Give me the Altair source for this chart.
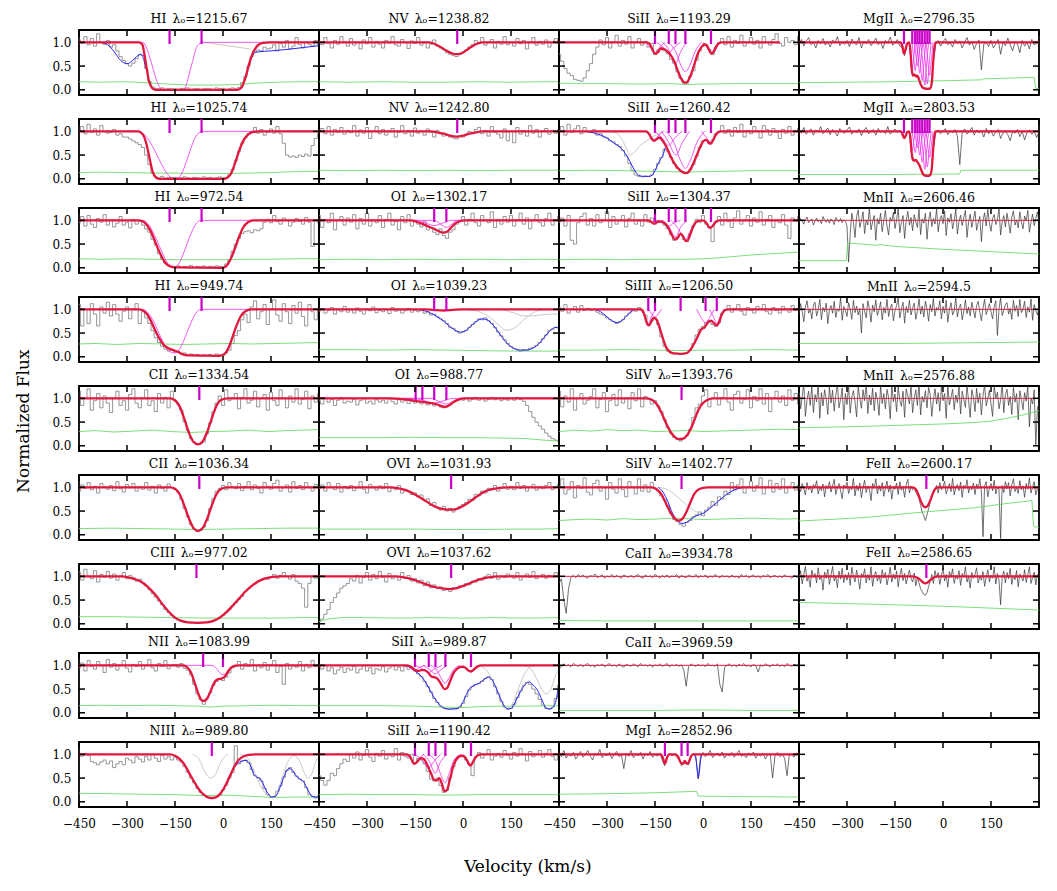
import altair as alt
import pandas as pd

# ---------------------------------------------------------------- axes
V_MIN, V_MAX = -450, 300
F_MIN, F_MAX = -0.11, 1.26
X_TICKS = [-450, -300, -150, 0, 150, 300]
Y_TICKS = [0.0, 0.5, 1.0]
PANEL_W, PANEL_H = 240, 65
TICK_LEN, TICK_W = 6, 1.5

FONT = "DejaVu Serif"
C_DATA = "#7c7c7c"
C_HIRES = "#333333"
C_ERR = "#5cd65c"
C_FIT = "#e3173e"
C_COMP = "#ee30ee"
C_TICK = "#c800c8"
C_BLUE = "#2424ff"
C_GRAY = "#c4c4c4"

# ---------------------------------------------------------------- component velocities
ticks_h1 = [-167, -67]
ticks_n5 = [-18]
ticks_o1 = [-90, -52]
ticks_o1_988 = [-148, -127, -90, -52]
ticks_o6 = [-37]
ticks_si2 = [-150, -107, -86, -55, 25]
ticks_si3 = [-171, -150, -70, 8, 43]
ticks_si4 = [-67]
ticks_c2 = [-74]
ticks_c3 = [-83]
ticks_n2 = [-62, 0]
ticks_n3 = [-35]
ticks_mg2 = [-122, -96, -87, -80, -73, -65, -57, -49, -42]
ticks_fe2 = [-52]
ticks_mg1 = [-119, -67, -48]

# ---------------------------------------------------------------- HI 1215.67
flux_h1_1215 = [105,98,112,95,108,92,118,100,96,104,
                90,95,82,70,62,55,50,56,66,74,
                72,45,18,6,3,2,4,1,3,2,
                2,1,3,2,4,1,2,3,1,2,
                3,2,1,4,2,3,1,2,4,2,
                5,15,28,50,70,80,84,82,90,86,
                88,95,82,98,90,104,86,92,110,95,
                88,100,96,92,104,95]
err_h1_1215 = [(-450,.17),(-380,.16),(-310,.17),(-240,.15),(-170,.12),(-100,.10),(-30,.10),(40,.11),(100,.14),(170,.16),(240,.17),(300,.17)]
fit_h1_1215 = [(-450,1),(-262,1),(-252,0.95),(-242,0.6),(-232,0.2),(-222,0.04),(-212,0),(45,0),(58,0.05),(70,0.25),(82,0.55),(95,0.8),(108,0.93),(125,0.99),(145,1),(300,1)]
comps_h1_1215 = [[(-450,1),(-250,1),(-240,0.9),(-225,0.6),(-210,0.25),(-195,0.03),(-185,0),(-125,0),(-115,0.1),(-105,0.35),(-95,0.6),(-85,0.85),(-75,0.97),(-65,1),(300,1)]]
blue_h1_1215 = [[(-385,1),(-360,0.95),(-340,0.8),(-320,0.62),(-300,0.55),(-285,0.6),(-270,0.7),(-255,0.75),(-247,0.62),(-240,0.45)],
                [(85,0.62),(95,0.76),(110,0.8),(150,0.82),(200,0.85),(250,0.89),(300,0.93)]]
gray_h1_1215 = [[(-60,1.0),(85,0.86)]]

# ---------------------------------------------------------------- HI 1025.74
flux_h1_1025 = [102,110,95,115,98,105,92,112,100,96,
                98,104,92,95,88,88,84,80,76,72,
                66,50,30,12,4,2,5,1,3,2,
                3,1,2,4,2,1,3,2,1,4,
                2,3,1,2,4,2,3,8,20,38,
                58,75,86,95,100,108,96,104,92,98,
                105,96,110,95,75,50,46,48,45,50,
                47,52,48,70,85,95]
err_h1_1025 = [(-450,.13),(-380,.14),(-300,.13),(-220,.12),(-150,.12),(-80,.11),(0,.11),(80,.12),(150,.13),(220,.15),(300,.16)]
fit_h1_1025 = [(-450,1),(-265,1),(-250,0.93),(-240,0.75),(-230,0.45),(-220,0.15),(-210,0.03),(-200,0),(5,0),(15,0.03),(28,0.15),(40,0.38),(52,0.62),(65,0.82),(80,0.94),(95,0.99),(115,1),(300,1)]
comps_h1_1025 = [[(-450,1),(-270,1),(-250,0.95),(-230,0.8),(-210,0.55),(-190,0.28),(-170,0.07),(-155,0.01),(-145,0.01),(-130,0.1),(-115,0.35),(-100,0.65),(-88,0.85),(-75,0.97),(-65,1),(300,1)]]

# ---------------------------------------------------------------- HI 972.54
flux_h1_972 = [95,108,88,110,92,85,104,96,112,90,
               100,86,94,108,90,96,84,102,92,98,
               90,82,75,60,48,30,18,10,5,3,
               2,4,1,3,2,5,1,3,2,4,
               1,3,2,4,3,2,8,16,35,50,
               62,72,76,78,74,80,78,82,96,102,
               95,110,98,92,105,100,88,96,104,98,
               92,106,96,45,100,95]
err_h1_972 = [(-450,.19),(-380,.18),(-300,.19),(-220,.18),(-150,.17),(-80,.17),(0,.17),(80,.18),(150,.18),(220,.19),(300,.19)]
fit_h1_972 = [(-450,1),(-262,1),(-245,0.95),(-228,0.8),(-212,0.55),(-195,0.28),(-180,0.1),(-165,0.03),(-150,0.01),(0,0),(12,0.05),(25,0.2),(38,0.42),(50,0.65),(63,0.85),(78,0.96),(95,1),(300,1)]
comps_h1_972 = [[(-450,1),(-250,1),(-235,0.93),(-215,0.7),(-195,0.4),(-175,0.12),(-160,0.02),(-150,0.02),(-135,0.12),(-118,0.4),(-100,0.72),(-85,0.92),(-70,1),(300,1)]]

# ---------------------------------------------------------------- HI 949.74
flux_h1_949 = [110,65,100,70,112,90,65,105,92,115,
               86,110,90,75,96,105,80,100,112,70,
               95,82,70,55,40,30,22,16,12,14,
               10,12,6,8,4,6,3,5,2,4,
               3,5,2,6,4,3,8,14,28,45,
               55,78,90,72,105,118,80,95,110,68,
               100,120,88,75,112,95,70,108,92,115,
               85,65,110,95,78,100]
err_h1_949 = [(-450,.27),(-400,.28),(-330,.26),(-260,.28),(-190,.27),(-120,.26),(-50,.27),(20,.28),(90,.27),(160,.28),(230,.29),(300,.30)]
fit_h1_949 = [(-450,1),(-262,1),(-245,0.95),(-230,0.82),(-215,0.6),(-200,0.4),(-185,0.25),(-170,0.18),(-155,0.14),(-140,0.1),(-125,0.05),(-110,0.03),(-10,0.02),(5,0.06),(18,0.2),(30,0.42),(42,0.65),(55,0.85),(70,0.96),(88,1),(300,1)]
comps_h1_949 = [[(-450,1),(-250,1),(-235,0.93),(-215,0.72),(-195,0.42),(-175,0.17),(-160,0.09),(-150,0.08),(-135,0.17),(-118,0.42),(-100,0.72),(-85,0.92),(-68,1),(300,1)]]

# ---------------------------------------------------------------- CII 1334.54
flux_c2_1334 = [115,85,100,120,75,95,110,80,105,90,
                70,100,115,85,95,75,108,120,90,80,
                100,118,85,95,72,110,90,102,80,115,
                95,88,75,50,32,15,8,5,4,8,
                25,48,72,90,105,85,118,95,100,110,
                78,102,120,90,96,115,82,100,108,75,
                112,95,85,118,100,80,105,92,120,88,
                98,115,78,105,92,110]
err_c2_1334 = [(-450,.30),(-400,.32),(-340,.29),(-280,.31),(-220,.33),(-160,.30),(-100,.28),(-40,.30),(20,.31),(80,.33),(140,.30),(200,.32),(250,.33),(300,.34)]
fit_c2_1334 = [(-450,1),(-165,1),(-150,0.96),(-135,0.82),(-120,0.55),(-105,0.25),(-92,0.08),(-78,0.03),(-65,0.08),(-50,0.28),(-35,0.58),(-20,0.85),(-5,0.97),(15,1),(300,1)]

# ---------------------------------------------------------------- CII 1036.34
flux_c2_1036 = [92,105,98,110,95,102,88,108,100,96,
                104,93,112,97,90,106,99,108,92,101,
                96,110,94,102,88,105,98,92,107,100,
                96,90,75,55,38,22,12,7,9,16,
                30,55,76,92,98,104,95,110,100,97,
                108,93,102,112,95,105,98,88,110,102,
                96,108,115,92,100,105,90,112,98,104,
                95,110,100,92,106,98]
err_c2_1036 = [(-450,.13),(-350,.14),(-250,.13),(-150,.12),(-80,.11),(0,.12),(100,.13),(200,.14),(300,.14)]
fit_c2_1036 = [(-450,1),(-165,1),(-150,0.97),(-135,0.85),(-120,0.6),(-105,0.32),(-92,0.14),(-78,0.08),(-65,0.13),(-50,0.33),(-35,0.62),(-20,0.86),(-5,0.97),(12,1),(300,1)]

# ---------------------------------------------------------------- CIII 977.02
flux_c3_977 = [108,92,115,100,95,112,88,104,98,110,
               96,105,92,100,108,95,102,98,90,94,
               86,80,72,64,56,48,40,30,24,18,
               12,8,5,4,3,2,3,1,2,3,
               3,4,6,10,14,18,24,30,38,44,
               52,58,68,74,80,84,90,92,96,94,
               98,104,96,102,108,100,94,104,90,85,
               75,35,85,100,96,102]
err_c3_977 = [(-450,.15),(-350,.15),(-250,.14),(-150,.13),(-50,.12),(50,.12),(150,.12),(250,.13),(300,.13)]
fit_c3_977 = [(-450,1),(-320,1),(-290,0.97),(-260,0.9),(-235,0.78),(-210,0.6),(-190,0.42),(-170,0.26),(-150,0.13),(-130,0.06),(-110,0.03),(-80,0.02),(-50,0.03),(-30,0.06),(-10,0.13),(10,0.24),(30,0.38),(50,0.53),(70,0.68),(90,0.8),(110,0.89),(130,0.95),(155,0.99),(180,1),(300,1)]

# ---------------------------------------------------------------- NII 1083.99
flux_n2_1083 = [95,105,88,110,98,92,108,100,85,112,
                96,104,90,100,110,94,86,102,98,108,
                92,100,112,95,88,104,98,110,93,100,
                102,96,104,94,90,80,60,40,28,18,
                30,42,58,66,72,68,75,84,95,100,
                108,92,104,98,112,88,100,95,106,90,
                102,110,85,98,60,104,92,100,96,108,
                88,102,95,110,97,100]
err_n2_1083 = [(-450,.15),(-380,.16),(-300,.15),(-220,.16),(-150,.15),(-80,.14),(-40,.12),(0,.14),(80,.15),(160,.16),(240,.15),(300,.15)]
fit_n2_1083 = [(-450,1),(-125,1),(-112,0.96),(-100,0.85),(-88,0.62),(-76,0.38),(-64,0.25),(-55,0.26),(-45,0.36),(-35,0.52),(-25,0.66),(-15,0.71),(-5,0.72),(5,0.76),(15,0.86),(25,0.95),(38,0.99),(50,1),(300,1)]
comps_n2_1083 = [[(-450,1),(-35,1),(-20,0.93),(-8,0.83),(0,0.8),(10,0.84),(22,0.94),(35,1),(300,1)]]

# ---------------------------------------------------------------- NIII 989.80
flux_n3_989 = [100,96,102,98,85,82,78,84,88,80,
               86,72,80,85,78,92,88,82,95,90,
               84,96,88,100,92,85,98,90,95,88,
               94,88,84,74,62,50,40,28,20,14,
               10,8,8,10,14,25,35,50,62,118,
               80,86,88,82,68,55,50,44,28,15,
               9,11,22,34,52,66,72,62,54,48,
               44,30,15,10,8,12]
err_n3_989 = [(-450,.18),(-350,.17),(-250,.16),(-150,.15),(-60,.13),(0,.14),(50,.13),(100,.11),(160,.09),(220,.10),(300,.10)]
fit_n3_989 = [(-450,1),(-165,1),(-150,0.97),(-135,0.9),(-120,0.78),(-105,0.6),(-90,0.42),(-75,0.26),(-60,0.15),(-45,0.09),(-32,0.08),(-18,0.11),(-5,0.2),(8,0.35),(22,0.55),(36,0.75),(50,0.89),(65,0.96),(82,0.99),(100,1),(300,1)]
blue_n3_989 = [[(30,0.68),(45,0.8),(60,0.86),(72,0.87),(85,0.78),(95,0.6),(105,0.52),(115,0.5),(125,0.38),(140,0.18),(153,0.1),(165,0.12),(178,0.3),(192,0.55),(205,0.7),(215,0.68),(228,0.55),(240,0.48),(252,0.42),(265,0.25),(278,0.12),(290,0.1),(300,0.12)]]
gray_n3_989 = [[(-95,1),(-75,0.9),(-58,0.65),(-45,0.52),(-35,0.5),(-22,0.6),(-8,0.82),(5,0.95),(15,1)],
               [(55,1),(80,0.9),(100,0.6),(120,0.3),(140,0.13),(153,0.1),(168,0.2),(185,0.5),(200,0.8),(215,0.95),(230,1)],
               [(220,1),(240,0.85),(255,0.6),(265,0.5),(278,0.6),(290,0.85),(300,0.95)]]

# ---------------------------------------------------------------- NV 1238.82 / 1242.80
flux_n5_1238 = [102,95,110,98,88,104,96,112,100,92,
                108,94,100,86,105,97,110,90,102,96,
                88,104,99,112,95,92,106,100,87,103,
                98,110,94,101,88,96,105,92,88,84,
                78,75,72,70,74,78,84,90,95,104,
                98,110,94,100,106,88,102,96,112,95,
                100,92,108,97,104,86,100,110,94,102,
                96,105,90,100,108,98]
err_n5_1238 = [(-450,.17),(-350,.16),(-250,.17),(-150,.16),(-50,.16),(50,.17),(150,.16),(250,.17),(300,.17)]
fit_n5_1238 = [(-450,1),(-110,1),(-90,0.97),(-70,0.9),(-50,0.82),(-35,0.77),(-20,0.75),(-5,0.77),(10,0.83),(25,0.9),(40,0.96),(60,1),(300,1)]

flux_n5_1242 = [100,106,95,110,92,104,98,108,94,102,
                97,112,90,103,96,108,85,100,110,95,
                104,92,100,106,88,98,112,95,102,90,
                107,96,100,92,105,98,88,102,95,90,
                92,88,86,84,90,88,94,100,96,104,
                108,95,102,90,110,98,94,86,105,80,
                100,76,108,94,102,90,112,96,104,88,
                100,106,94,102,96,104]
err_n5_1242 = [(-450,.18),(-350,.17),(-250,.18),(-150,.17),(-50,.18),(50,.17),(150,.18),(250,.18),(300,.18)]
fit_n5_1242 = [(-450,1),(-100,1),(-80,0.98),(-60,0.95),(-40,0.91),(-20,0.89),(0,0.91),(20,0.95),(40,0.98),(60,1),(300,1)]

# ---------------------------------------------------------------- OI 1302.17 / 1039.23 / 988.77
flux_o1_1302 = [110,85,102,95,115,80,100,108,90,105,
                96,112,82,104,92,115,88,100,95,110,
                85,102,115,90,98,80,108,95,112,88,
                100,92,86,98,80,85,75,70,82,68,
                62,75,80,92,98,108,90,102,115,95,
                88,110,100,95,118,85,102,92,108,96,
                110,88,100,115,92,105,82,100,112,95,
                88,104,115,90,100,108]
err_o1_1302 = [(-450,.17),(-350,.18),(-250,.17),(-150,.18),(-50,.17),(50,.18),(150,.17),(250,.18),(300,.17)]
fit_o1_1302 = [(-450,1),(-165,1),(-145,0.97),(-125,0.92),(-105,0.86),(-90,0.82),(-75,0.77),(-62,0.74),(-50,0.76),(-38,0.84),(-25,0.93),(-10,0.98),(5,1),(300,1)]
comps_o1_1302 = [[(-450,1),(-150,1),(-120,0.95),(-90,0.89),(-60,0.95),(-35,1),(300,1)],
                 [(-450,1),(-90,1),(-70,0.92),(-52,0.85),(-35,0.92),(-15,1),(300,1)]]

flux_o1_1039 = [96,102,92,98,104,90,100,95,106,94,
                99,92,103,96,90,101,97,105,93,98,
                95,100,91,104,96,99,92,97,102,94,
                98,95,100,92,96,88,90,84,80,76,
                70,62,60,54,50,52,55,62,68,74,
                80,78,82,76,70,62,52,44,36,28,
                22,18,16,12,15,14,18,20,24,30,
                38,46,55,58,62,60]
err_o1_1039 = [(-450,.15),(-350,.15),(-250,.14),(-150,.15),(-50,.14),(50,.13),(150,.12),(250,.12),(300,.12)]
fit_o1_1039 = [(-450,1),(-120,1),(-90,0.985),(-60,0.975),(-30,0.99),(0,1),(300,1)]
blue_o1_1039 = [[(-150,1),(-120,0.97),(-95,0.9),(-70,0.8),(-45,0.66),(-25,0.56),(-8,0.52),(10,0.56),(30,0.68),(50,0.78),(62,0.8),(75,0.78),(95,0.66),(115,0.48),(135,0.3),(155,0.19),(175,0.14),(195,0.14),(215,0.17),(235,0.26),(255,0.42),(275,0.57),(290,0.62),(300,0.62)]]
gray_o1_1039 = [[(-10,1),(40,0.97),(80,0.85),(110,0.68),(135,0.56),(160,0.6),(190,0.78),(220,0.93),(250,0.99),(300,1)],
                [(120,1),(160,0.92),(190,0.86),(230,0.87),(270,0.9),(300,0.9)]]

flux_o1_988 = [95,88,100,92,98,85,96,102,90,94,
               92,98,86,95,100,90,94,88,97,92,
               96,90,100,93,88,97,92,95,89,94,
               90,93,88,92,86,89,84,87,82,80,
               84,86,92,95,98,96,100,94,98,102,
               96,100,94,98,102,97,100,95,99,96,
               100,96,102,98,94,85,72,60,50,42,
               35,27,20,15,12,10]
err_o1_988 = [(-450,.17),(-350,.17),(-250,.17),(-150,.18),(-50,.17),(50,.17),(150,.16),(200,.15),(250,.12),(300,.10)]
fit_o1_988 = [(-450,1),(-230,1),(-200,0.99),(-170,0.97),(-145,0.94),(-120,0.92),(-100,0.9),(-80,0.87),(-65,0.83),(-55,0.82),(-42,0.86),(-28,0.93),(-12,0.98),(5,1),(300,1)]
comps_o1_988 = [[(-450,1),(-160,1),(-120,0.95),(-90,0.9),(-60,0.95),(-30,1),(300,1)],
                [(-450,1),(-100,1),(-75,0.93),(-52,0.88),(-30,0.94),(-10,1),(300,1)]]

# ---------------------------------------------------------------- OVI 1031.93 / 1037.62
flux_o6_1031 = [98,105,92,110,100,95,108,90,102,97,
                104,93,99,112,96,88,106,100,94,103,
                97,108,91,100,95,104,88,96,92,85,
                88,80,84,72,76,62,68,58,52,60,
                50,56,48,55,60,64,68,75,72,85,
                82,92,88,98,95,104,92,100,108,96,
                102,95,110,98,104,92,100,106,94,101,
                97,104,110,95,100,106]
err_o6_1031 = [(-450,.12),(-350,.12),(-250,.12),(-150,.12),(-50,.11),(50,.11),(150,.12),(250,.12),(300,.13)]
fit_o6_1031 = [(-450,1),(-230,1),(-200,0.98),(-175,0.93),(-150,0.85),(-125,0.75),(-100,0.64),(-75,0.56),(-50,0.53),(-30,0.53),(-10,0.57),(15,0.67),(40,0.79),(65,0.9),(90,0.96),(115,0.99),(140,1),(300,1)]

flux_o6_1037 = [5,10,20,30,45,55,65,75,80,85,
                95,90,102,86,98,108,92,104,95,110,
                98,88,106,95,100,92,108,96,102,90,
                95,86,92,80,88,76,82,74,78,70,
                72,68,76,74,80,78,85,82,90,88,
                95,92,100,104,96,108,94,100,98,105,
                102,96,108,92,100,105,98,110,95,100,
                104,96,102,99,108,100]
err_o6_1037 = [(-450,.05),(-420,.10),(-380,.13),(-300,.13),(-200,.12),(-100,.13),(0,.12),(100,.13),(200,.12),(300,.13)]
fit_o6_1037 = [(-450,1),(-210,1),(-185,0.98),(-160,0.94),(-135,0.88),(-110,0.82),(-85,0.77),(-60,0.74),(-40,0.73),(-20,0.75),(5,0.81),(30,0.88),(55,0.94),(80,0.98),(110,1),(300,1)]

# ---------------------------------------------------------------- SiII 989.87
flux_si2_989 = [98,92,100,88,95,82,90,96,85,94,
                90,98,84,92,100,88,95,82,93,90,
                97,86,94,100,90,96,88,98,92,95,
                88,82,76,66,55,44,30,22,14,10,
                8,7,9,8,12,20,34,48,55,60,
                62,66,72,76,70,55,40,24,12,8,
                9,18,32,46,58,64,60,50,40,28,
                16,9,8,12,30,58]
err_si2_989 = [(-450,.15),(-350,.15),(-250,.15),(-150,.14),(-60,.12),(0,.11),(50,.13),(120,.14),(200,.14),(300,.15)]
fit_si2_989 = [(-450,1),(-175,1),(-162,0.97),(-150,0.9),(-140,0.88),(-130,0.9),(-120,0.9),(-108,0.84),(-98,0.76),(-90,0.75),(-80,0.72),(-68,0.6),(-58,0.5),(-50,0.52),(-40,0.67),(-30,0.83),(-18,0.93),(-5,0.97),(5,0.96),(15,0.9),(24,0.87),(32,0.9),(42,0.96),(55,1),(300,1)]
comps_si2_989 = [[(-185,1),(-168,0.96),(-151,0.89),(-135,0.96),(-118,1)],
                 [(-150,1),(-130,0.94),(-108,0.85),(-88,0.93),(-65,1)],
                 [(-125,1),(-105,0.92),(-87,0.82),(-70,0.9),(-50,1)],
                 [(-100,1),(-80,0.88),(-66,0.7),(-56,0.62),(-45,0.72),(-30,0.9),(-12,1)],
                 [(0,1),(12,0.94),(24,0.88),(36,0.94),(50,1)]]
blue_si2_989 = [[(-185,1),(-165,0.96),(-150,0.88),(-135,0.8),(-120,0.68),(-105,0.5),(-90,0.32),(-75,0.18),(-60,0.1),(-45,0.08),(-30,0.08),(-15,0.1),(-2,0.2),(10,0.38),(22,0.52),(35,0.58),(50,0.62),(65,0.7),(80,0.75),(92,0.68),(105,0.5),(118,0.28),(130,0.13),(140,0.08),(152,0.1),(165,0.25),(180,0.45),(195,0.6),(207,0.65),(220,0.58),(235,0.45),(248,0.25),(260,0.1),(272,0.08),(285,0.15),(295,0.4),(300,0.6)]]
gray_si2_989 = [[(40,1),(70,0.92),(95,0.65),(115,0.35),(130,0.15),(140,0.1),(155,0.2),(175,0.55),(195,0.85),(215,0.98),(230,1)],
                [(190,1),(215,0.9),(235,0.65),(250,0.45),(262,0.4),(275,0.5),(290,0.8),(300,0.92)]]

# ---------------------------------------------------------------- SiII 1190.42
flux_si2_1190 = [55,45,35,45,60,55,70,80,90,85,
                 100,92,105,88,98,110,94,85,102,96,
                 108,90,100,95,112,88,104,96,92,100,
                 82,92,88,80,64,48,44,50,34,20,
                 24,50,74,90,97,96,88,78,55,95,
                 104,92,100,110,88,96,102,94,108,98,
                 90,104,96,112,100,86,106,95,100,108,
                 94,102,110,96,88,100]
err_si2_1190 = [(-450,.15),(-350,.16),(-250,.15),(-150,.15),(-50,.14),(50,.15),(150,.15),(250,.15),(300,.15)]
fit_si2_1190 = [(-450,1),(-175,1),(-165,0.95),(-153,0.8),(-143,0.84),(-133,0.92),(-122,0.9),(-112,0.78),(-100,0.6),(-90,0.46),(-82,0.45),(-74,0.5),(-66,0.38),(-58,0.22),(-50,0.25),(-40,0.5),(-30,0.76),(-18,0.92),(-5,0.97),(5,0.95),(14,0.85),(23,0.76),(32,0.85),(42,0.96),(55,1),(300,1)]
comps_si2_1190 = [[(-180,1),(-165,0.92),(-151,0.8),(-137,0.92),(-122,1)],
                  [(-150,1),(-128,0.88),(-108,0.72),(-90,0.86),(-70,1)],
                  [(-125,1),(-105,0.85),(-87,0.6),(-72,0.82),(-52,1)],
                  [(-110,1),(-85,0.85),(-68,0.55),(-56,0.4),(-44,0.58),(-28,0.88),(-5,1)],
                  [(0,1),(12,0.9),(24,0.77),(36,0.9),(50,1)]]

# ---------------------------------------------------------------- SiII 1193.29
flux_si2_1193 = [75,60,45,35,30,22,20,18,25,40,
                 55,75,90,105,95,110,88,100,115,92,
                 104,96,112,88,100,108,94,102,90,98,
                 74,84,88,82,76,64,56,38,24,14,
                 14,28,40,62,82,92,95,85,74,90,
                 100,108,95,112,90,104,98,115,92,100,
                 110,96,104,88,112,100,94,106,118,98,
                 92,110,100,104,95,112]
err_si2_1193 = [(-450,.14),(-380,.13),(-300,.13),(-200,.12),(-100,.13),(-50,.11),(0,.12),(100,.13),(200,.13),(300,.13)]
fit_si2_1193 = [(-450,1),(-175,1),(-165,0.95),(-157,0.83),(-148,0.76),(-140,0.8),(-132,0.87),(-122,0.86),(-110,0.8),(-100,0.72),(-90,0.6),(-80,0.42),(-70,0.26),(-60,0.16),(-52,0.15),(-44,0.22),(-35,0.37),(-25,0.58),(-15,0.78),(-5,0.9),(5,0.96),(15,0.9),(22,0.8),(27,0.76),(35,0.82),(45,0.95),(58,1),(240,1)]
comps_si2_1193 = [[(-180,1),(-165,0.9),(-150,0.77),(-135,0.9),(-120,1)],
                  [(-145,1),(-125,0.9),(-107,0.78),(-90,0.9),(-70,1)],
                  [(-125,1),(-105,0.82),(-86,0.55),(-70,0.8),(-50,1)],
                  [(-110,1),(-85,0.8),(-68,0.5),(-55,0.38),(-42,0.5),(-25,0.8),(-5,1)],
                  [(0,1),(12,0.9),(25,0.77),(38,0.9),(52,1)]]

# ---------------------------------------------------------------- SiII 1260.42
flux_si2_1260 = [102,110,92,115,98,105,112,95,108,100,
                 98,104,92,95,88,86,80,78,72,68,
                 60,48,32,18,8,5,4,6,5,8,
                 20,32,45,62,58,45,32,22,16,12,
                 12,18,30,48,66,80,82,74,82,95,
                 100,112,96,104,90,108,98,115,88,102,
                 95,110,100,86,112,104,92,106,98,85,
                 104,96,110,92,100,106]
err_si2_1260 = [(-450,.17),(-350,.18),(-250,.17),(-180,.16),(-100,.15),(-50,.14),(0,.15),(80,.16),(150,.17),(300,.17)]
fit_si2_1260 = [(-450,1),(-178,1),(-168,0.94),(-160,0.84),(-152,0.8),(-144,0.84),(-136,0.87),(-126,0.8),(-115,0.68),(-103,0.5),(-90,0.33),(-78,0.22),(-66,0.15),(-56,0.12),(-46,0.14),(-36,0.24),(-24,0.42),(-12,0.62),(0,0.78),(10,0.82),(18,0.76),(25,0.74),(32,0.82),(42,0.95),(55,1),(300,1)]
comps_si2_1260 = [[(-180,1),(-166,0.92),(-152,0.83),(-138,0.92),(-124,1)],
                  [(-150,1),(-128,0.86),(-108,0.7),(-88,0.86),(-66,1)],
                  [(-130,1),(-108,0.78),(-85,0.5),(-65,0.76),(-42,1)],
                  [(-115,1),(-90,0.75),(-70,0.38),(-55,0.22),(-40,0.38),(-20,0.75),(5,1)],
                  [(-5,1),(10,0.88),(24,0.77),(38,0.88),(52,1)]]
blue_si2_1260 = [[(-380,1),(-350,0.98),(-320,0.92),(-300,0.86),(-280,0.76),(-262,0.68),(-250,0.6),(-235,0.45),(-222,0.28),(-210,0.14),(-200,0.07),(-185,0.05),(-170,0.05),(-158,0.08),(-148,0.2),(-140,0.32),(-132,0.42),(-125,0.5),(-118,0.66)]]
gray_si2_1260 = [[(-290,1),(-270,0.96),(-255,0.85),(-240,0.65),(-228,0.5),(-215,0.55),(-200,0.68),(-180,0.78),(-160,0.87),(-140,0.95),(-120,1)]]

# ---------------------------------------------------------------- SiII 1304.37
flux_si2_1304 = [96,105,88,110,58,50,95,108,115,90,
                 104,88,112,95,100,118,85,108,92,100,
                 110,86,104,115,92,100,88,112,96,105,
                 92,100,95,90,82,70,58,64,70,60,
                 55,72,88,102,96,110,92,84,55,96,
                 108,90,115,98,85,105,120,92,100,110,
                 88,105,96,118,90,102,110,85,100,95,
                 112,90,62,105,98,108]
err_si2_1304 = [(-450,.17),(-350,.18),(-250,.17),(-150,.18),(-50,.18),(0,.19),(50,.21),(100,.24),(150,.27),(200,.29),(250,.31),(300,.33)]
fit_si2_1304 = [(-450,1),(-170,1),(-162,0.97),(-153,0.93),(-144,0.96),(-135,0.98),(-122,0.95),(-110,0.86),(-98,0.7),(-88,0.6),(-80,0.62),(-70,0.72),(-62,0.66),(-54,0.56),(-46,0.6),(-36,0.78),(-26,0.93),(-15,0.99),(0,1),(10,0.95),(17,0.87),(23,0.84),(30,0.88),(40,0.97),(52,1),(300,1)]
comps_si2_1304 = [[(-175,1),(-163,0.97),(-150,0.93),(-137,0.97),(-125,1)],
                  [(-145,1),(-125,0.95),(-107,0.88),(-90,0.95),(-70,1)],
                  [(-125,1),(-105,0.85),(-86,0.65),(-70,0.85),(-50,1)],
                  [(-100,1),(-80,0.85),(-62,0.65),(-55,0.6),(-48,0.65),(-32,0.88),(-12,1)],
                  [(0,1),(12,0.93),(24,0.84),(36,0.93),(50,1)]]

# ---------------------------------------------------------------- SiIII 1206.50
flux_si3_1206 = [104,96,110,92,100,106,94,108,98,102,
                 98,100,94,90,88,82,78,74,70,74,
                 78,86,92,100,96,104,98,88,66,76,
                 82,68,42,22,12,8,6,7,5,8,
                 9,14,28,46,58,64,72,76,68,64,
                 72,92,100,108,94,102,110,96,88,104,
                 98,92,106,100,110,95,90,104,98,92,
                 106,100,94,108,98,102]
err_si3_1206 = [(-450,.14),(-350,.14),(-250,.15),(-150,.14),(-50,.13),(0,.14),(100,.14),(200,.15),(300,.14)]
fit_si3_1206 = [(-450,1),(-195,1),(-185,0.92),(-176,0.72),(-170,0.66),(-163,0.72),(-155,0.82),(-145,0.78),(-135,0.6),(-125,0.38),(-115,0.2),(-103,0.1),(-90,0.07),(-70,0.06),(-50,0.08),(-38,0.16),(-26,0.3),(-15,0.45),(-5,0.58),(5,0.62),(15,0.72),(25,0.76),(35,0.7),(43,0.66),(50,0.72),(58,0.88),(68,0.98),(80,1),(300,1)]
comps_si3_1206 = [[(-195,1),(-183,0.88),(-171,0.7),(-159,0.88),(-147,1)],
                  [(-170,1),(-160,0.9),(-150,0.84),(-140,0.9),(-130,1)],
                  [(-20,1),(-8,0.85),(8,0.72),(22,0.85),(35,1)],
                  [(20,1),(32,0.85),(43,0.7),(54,0.85),(66,1)]]
blue_si3_1206 = [[(-345,1),(-320,0.95),(-300,0.84),(-282,0.75),(-268,0.72),(-255,0.75),(-240,0.85),(-225,0.95),(-210,1)]]

# ---------------------------------------------------------------- SiIV 1393.76 / 1402.77
flux_si4_1393 = [115,82,105,92,120,75,100,110,88,96,
                 104,120,80,98,112,72,95,108,85,118,
                 90,100,78,112,95,120,82,104,98,88,
                 95,84,72,55,38,26,18,14,10,16,
                 22,35,60,80,88,105,118,82,100,112,
                 86,102,120,92,75,108,115,90,98,118,
                 80,104,95,120,88,110,72,100,115,92,
                 105,85,118,96,110,88]
err_si4_1393 = [(-450,.30),(-400,.33),(-350,.31),(-300,.34),(-250,.32),(-200,.33),(-150,.30),(-100,.31),(-50,.32),(0,.30),(50,.31),(100,.32),(150,.33),(200,.34),(250,.35),(300,.34)]
fit_si4_1393 = [(-450,1),(-175,1),(-160,0.97),(-145,0.88),(-130,0.7),(-115,0.47),(-100,0.28),(-88,0.18),(-75,0.14),(-62,0.15),(-50,0.22),(-38,0.36),(-26,0.56),(-14,0.76),(0,0.9),(15,0.97),(30,1),(300,1)]

flux_si4_1402 = [102,118,86,95,112,78,104,98,120,90,
                 84,108,115,92,100,75,110,96,88,118,
                 95,80,112,100,86,118,92,105,90,110,
                 98,92,82,74,62,45,32,28,22,18,
                 26,30,38,42,48,40,52,58,70,62,
                 80,75,92,85,110,95,105,118,88,100,
                 112,92,104,120,86,100,115,90,108,96,
                 118,88,102,110,94,105]
err_si4_1402 = [(-450,.30),(-400,.32),(-350,.33),(-300,.31),(-250,.34),(-200,.32),(-150,.33),(-100,.35),(-50,.34),(0,.32),(50,.33),(100,.34),(150,.35),(200,.34),(250,.33),(300,.34)]
fit_si4_1402 = [(-450,1),(-160,1),(-145,0.96),(-130,0.85),(-115,0.65),(-100,0.45),(-88,0.34),(-76,0.3),(-64,0.34),(-52,0.48),(-40,0.67),(-28,0.85),(-15,0.95),(0,0.99),(15,1),(300,1)]
blue_si4_1402 = [[(-140,1),(-125,0.9),(-110,0.7),(-95,0.45),(-80,0.3),(-66,0.24),(-52,0.26),(-38,0.33),(-20,0.4),(0,0.45),(20,0.55),(40,0.66),(60,0.78),(80,0.88),(100,0.95),(120,0.99),(135,1)]]
gray_si4_1402 = [[(-140,1),(-110,0.95),(-80,0.8),(-50,0.62),(-25,0.5),(0,0.45),(20,0.54),(40,0.66),(60,0.78),(80,0.88),(100,0.95),(125,1)]]

# ---------------------------------------------------------------- CaII 3934.78 / 3969.59
flux_ca2_3934 = [85,95,50,22,75,98,102,97,104,99,
                 103,98,96,102,99,105,97,100,103,96,
                 101,98,104,97,102,99,96,103,100,98,
                 102,97,101,104,98,96,103,99,101,97,
                 104,100,96,102,98,103,97,101,99,104,
                 96,102,99,97,103,100,98,104,97,101,
                 99,103,96,101,98,104,100,97,102,99,
                 101,97,103,98,100,96,104,99,102,97,
                 100,103,98,101,96,102,99,104,97,100,
                 102,98,101,97,103,99,100,96,102,98,101]
err_ca2_3934 = [(-450,.07),(-300,.06),(-150,.06),(0,.06),(150,.06),(300,.06)]
fit_ca2_3934 = [(-450,1),(300,1)]

flux_ca2_3969 = [92,98,103,99,101,97,104,100,98,102,
                 97,101,104,98,100,96,102,99,103,97,
                 100,104,98,101,97,103,99,96,102,100,
                 98,103,100,97,104,99,101,98,102,96,
                 101,99,103,98,100,104,97,101,99,102,
                 98,101,90,56,97,103,100,98,102,99,
                 101,97,104,99,100,98,103,60,44,96,
                 100,103,98,101,97,102,99,104,98,100,
                 97,102,99,86,101,98,103,100,97,102,
                 99,103,98,101,97,104,100,98,102,99,101]
err_ca2_3969 = [(-450,.05),(-150,.05),(0,.06),(150,.05),(300,.05)]
fit_ca2_3969 = [(-450,1),(300,1)]

# ---------------------------------------------------------------- MgI 2852.96
flux_mg1_2852 = [102,95,108,92,100,96,104,90,98,106,
                 94,100,108,96,88,102,98,110,93,100,
                 97,104,91,100,106,95,99,70,102,96,
                 108,93,100,97,104,90,101,98,106,94,
                 100,96,103,88,76,92,102,97,99,94,
                 90,76,80,82,78,95,102,96,48,98,
                 104,95,100,108,93,99,102,96,105,92,
                 100,97,104,94,101,108,96,99,93,103,
                 98,105,92,100,96,103,90,99,101,50,
                 97,104,95,100,92,55,101,98,94,103,99]
err_mg1_2852 = [(-450,.16),(-300,.17),(-150,.19),(-20,.22),(-15,.12),(100,.11),(300,.10)]
fit_mg1_2852 = [(-450,1),(-132,1),(-126,0.94),(-119,0.8),(-112,0.94),(-106,1),(-85,1),(-78,0.95),(-70,0.83),(-63,0.8),(-57,0.86),(-50,0.8),(-44,0.84),(-38,0.95),(-32,1),(300,1)]
blue_mg1_2852 = [[(-28,1),(-22,0.9),(-17,0.6),(-15,0.5),(-12,0.6),(-7,0.9),(-2,1)]]

# ---------------------------------------------------------------- MgII 2796.35 / 2803.53
flux_mg2_2796 = [98,106,92,103,110,95,100,88,104,97,
                 108,94,101,90,105,99,112,93,100,96,
                 104,91,107,98,95,110,88,102,97,106,
                 93,100,109,95,101,87,104,98,111,94,
                 99,106,92,90,72,96,98,40,30,28,
                 22,10,3,2,1,5,60,96,104,92,
                 101,108,95,99,90,106,97,103,88,100,
                 110,94,102,85,98,105,42,96,100,91,
                 104,88,97,106,75,100,93,109,95,82,
                 101,97,78,104,92,100,86,106,95,98,102]
err_mg2_2796 = [(-450,.15),(-300,.16),(-150,.17),(0,.19),(120,.21),(126,.23),(285,.26),(290,.03),(300,.02)]
fit_mg2_2796 = [(-450,1),(-132,1),(-127,0.92),(-122,0.76),(-117,0.85),(-112,0.97),(-106,1),(-102,0.85),(-98,0.45),(-94,0.3),(-88,0.32),(-84,0.28),(-80,0.3),(-75,0.22),(-70,0.12),(-64,0.05),(-58,0.03),(-48,0.02),(-40,0.03),(-35,0.15),(-31,0.55),(-27,0.88),(-23,1),(300,1)]
comps_mg2_2796 = [[(-134,1),(-128,0.9),(-122,0.75),(-116,0.9),(-110,1)],
                  [(-106,1),(-101,0.72),(-96,0.45),(-91,0.72),(-86,1)],
                  [(-97,1),(-92,0.7),(-87,0.4),(-82,0.7),(-77,1)],
                  [(-90,1),(-85,0.75),(-80,0.5),(-75,0.75),(-70,1)],
                  [(-83,1),(-78,0.68),(-73,0.35),(-68,0.68),(-63,1)],
                  [(-76,1),(-71,0.6),(-65,0.2),(-59,0.6),(-54,1)],
                  [(-69,1),(-63,0.55),(-57,0.1),(-51,0.55),(-45,1)],
                  [(-61,1),(-55,0.56),(-49,0.12),(-43,0.56),(-37,1)],
                  [(-53,1),(-48,0.65),(-42,0.3),(-36,0.65),(-31,1)]]

flux_mg2_2803 = [102,96,108,94,100,105,92,103,98,110,
                 95,101,107,93,104,98,90,106,100,96,
                 103,109,94,100,97,105,91,102,108,95,
                 99,104,92,106,98,101,95,110,94,100,
                 105,97,102,99,84,100,96,50,40,38,
                 32,20,8,6,6,10,65,97,103,95,
                 100,106,93,101,97,104,90,30,99,105,
                 94,100,108,92,103,97,101,88,106,95,
                 102,90,99,104,85,97,101,93,80,100,
                 96,104,89,100,82,98,103,94,100,87,99]
err_mg2_2803 = [(-450,.09),(-200,.09),(52,.10),(56,.18),(300,.18)]
fit_mg2_2803 = [(-450,1),(-132,1),(-127,0.95),(-122,0.86),(-117,0.9),(-112,0.98),(-106,1),(-102,0.88),(-98,0.55),(-94,0.4),(-90,0.38),(-85,0.4),(-80,0.35),(-75,0.3),(-70,0.22),(-64,0.12),(-58,0.07),(-48,0.06),(-40,0.08),(-35,0.22),(-31,0.6),(-27,0.9),(-23,1),(300,1)]
comps_mg2_2803 = [[(-134,1),(-128,0.94),(-122,0.86),(-116,0.94),(-110,1)],
                  [(-106,1),(-101,0.8),(-96,0.6),(-91,0.8),(-86,1)],
                  [(-97,1),(-92,0.78),(-87,0.55),(-82,0.78),(-77,1)],
                  [(-90,1),(-85,0.83),(-80,0.65),(-75,0.83),(-70,1)],
                  [(-83,1),(-78,0.75),(-73,0.5),(-68,0.75),(-63,1)],
                  [(-76,1),(-71,0.68),(-65,0.35),(-59,0.68),(-54,1)],
                  [(-69,1),(-63,0.6),(-57,0.2),(-51,0.6),(-45,1)],
                  [(-61,1),(-55,0.62),(-49,0.25),(-43,0.62),(-37,1)],
                  [(-53,1),(-48,0.72),(-42,0.45),(-36,0.72),(-31,1)]]

# ---------------------------------------------------------------- MnII 2606.46 / 2594.5 / 2576.88 (5 km/s pixels)
flux_mn2_2606 = [96,104,99,92,101,107,95,100,103,90,
                 98,105,97,101,93,108,100,96,102,94,
                 103,99,91,106,100,97,104,95,101,98,
                 88,12,70,115,96,64,108,122,85,99,
                 118,72,101,90,126,80,97,110,58,104,
                 92,115,76,100,121,88,69,106,98,117,
                 83,101,124,74,95,110,62,99,119,90,
                 106,78,112,97,85,123,70,103,94,115,
                 60,99,118,87,104,92,125,76,101,110,
                 93,120,68,105,96,114,82,100,124,71,
                 98,111,89,106,121,64,97,113,85,102,
                 119,79,95,108,55,100,116,88,123,94,
                 77,104,112,91,100,126,69,98,110,86,
                 115,95,73,107,120,90,101,84,118,97,
                 82,109,99,121,75,96,113,89,104,118,
                 93]
err_mn2_2606 = [(-450,.15),(-302,.15),(-298,.52),(-250,.50),(-205,.47),(-200,.49),(-150,.45),(0,.39),(150,.34),(300,.29)]
fit_mn2_2606 = [(-450,1),(300,1)]

flux_mn2_2594 = [88,112,96,74,105,118,92,101,80,109,
                 115,86,99,121,78,104,95,113,70,100,
                 108,92,117,83,101,96,124,77,106,98,
                 85,114,100,79,119,93,107,88,102,50,
                 112,96,82,118,101,73,109,95,120,87,
                 99,116,78,104,92,121,85,103,111,76,
                 97,108,124,82,100,115,71,106,93,119,
                 88,102,113,79,96,122,90,107,84,117,
                 101,75,110,95,123,86,104,98,118,80,
                 106,92,119,73,100,114,88,97,125,84,
                 103,111,78,96,120,91,105,86,115,99,
                 82,108,117,94,76,103,121,89,100,112,
                 95,80,106,118,45,101,124,87,98,110,
                 114,90,102,79,119,96,108,85,121,93,
                 100,117,83,105,94,122,77,110,98,88,
                 104]
err_mn2_2594 = [(-450,.28),(-300,.28),(-150,.28),(0,.29),(150,.30),(300,.31)]
fit_mn2_2594 = [(-450,1),(300,1)]

flux_mn2_2576 = [120,78,104,131,62,97,115,85,126,70,
                 108,93,129,58,112,84,118,99,66,125,
                 90,117,73,106,130,80,98,122,55,110,
                 87,127,69,103,116,92,61,124,100,79,
                 118,95,132,68,107,86,121,74,113,97,
                 64,126,89,110,78,119,101,57,128,93,
                 109,72,124,96,83,115,60,120,105,88,
                 127,70,99,118,85,131,65,104,92,116,
                 80,123,108,62,97,120,88,112,73,126,
                 95,110,58,129,86,102,119,76,107,91,
                 124,67,115,98,81,127,94,60,118,103,
                 72,121,90,111,65,106,128,84,99,117,
                 88,62,125,100,113,78,96,130,70,108,
                 119,85,104,66,123,92,110,55,116,98,
                 76,112,94,127,40,101,88,118,2,79,
                 90]
err_mn2_2576 = [(-450,.38),(-300,.40),(-150,.43),(0,.46),(100,.49),(150,.52),(200,.58),(250,.65),(300,.74)]
fit_mn2_2576 = [(-450,1),(300,1)]

# ---------------------------------------------------------------- FeII 2600.17 / 2586.65 (5 km/s pixels)
flux_fe2_2600 = [102,91,108,97,84,110,95,103,88,106,
                 99,114,86,101,93,107,80,104,97,112,
                 90,103,117,85,99,108,92,76,105,98,
                 111,87,101,95,119,82,104,93,109,78,
                 100,115,89,103,96,72,108,99,118,86,
                 104,92,110,81,98,113,90,105,75,101,
                 96,109,85,112,94,102,79,106,117,88,
                 103,95,98,90,84,76,62,48,40,30,
                 42,55,68,80,92,97,104,88,110,95,
                 101,113,86,97,108,91,119,84,100,106,
                 93,111,79,104,98,116,88,102,95,109,
                 85,107,97,118,90,-4,103,112,80,99,
                 108,93,115,86,101,96,-8,104,89,112,
                 97,110,82,105,118,91,100,87,114,95,
                 103,79,108,96,120,88,101,112,84,98,
                 105]
err_fe2_2600 = [(-450,.29),(-250,.36),(-60,.48),(100,.57),(200,.66),(278,.72),(283,.17),(300,.16)]
fit_fe2_2600 = [(-450,1),(-95,1),(-85,0.96),(-77,0.85),(-70,0.72),(-63,0.62),(-55,0.58),(-47,0.62),(-40,0.72),(-33,0.85),(-25,0.96),(-15,1),(300,1)]

flux_fe2_2586 = [95,112,84,104,121,90,100,77,113,98,
                 106,86,118,93,101,71,109,96,115,83,
                 102,121,90,99,76,111,94,117,87,104,
                 92,108,81,119,100,88,113,95,73,106,
                 98,116,86,104,92,120,79,101,110,90,
                 103,85,114,96,108,82,99,119,88,105,
                 94,111,78,102,117,91,106,84,100,113,
                 96,88,107,80,98,86,74,68,62,60,
                 66,78,90,104,85,112,97,108,83,101,
                 118,90,104,77,110,98,116,85,102,94,
                 112,81,106,98,120,88,100,75,108,96,
                 104,118,86,100,92,110,79,98,114,88,
                 102,96,120,84,106,92,40,98,111,86,
                 108,95,117,83,101,93,112,78,105,99,
                 90,114,87,103,120,85,98,109,82,104,
                 100]
err_fe2_2586 = [(-450,.45),(-150,.40),(0,.37),(150,.33),(300,.29)]
fit_fe2_2586 = [(-450,1),(-95,1),(-80,0.97),(-70,0.92),(-62,0.87),(-55,0.85),(-48,0.87),(-40,0.92),(-30,0.97),(-18,1),(300,1)]

# ---------------------------------------------------------------- panel table
def spec(ion, wave, flux, err, fit, ticks=None, comps=None, blue=None, gray=None, hires=False, thin=False):
    return dict(ion=ion, wave=wave, flux=flux, err=err, fit=fit, ticks=ticks or [],
                comps=comps or [], blue=blue or [], gray=gray or [], hires=hires, thin=thin)

GRID = [
    [spec("HI", "1215.67", flux_h1_1215, err_h1_1215, fit_h1_1215, ticks_h1, comps_h1_1215, blue_h1_1215, gray_h1_1215),
     spec("NV", "1238.82", flux_n5_1238, err_n5_1238, fit_n5_1238, ticks_n5),
     spec("SiII", "1193.29", flux_si2_1193, err_si2_1193, fit_si2_1193, ticks_si2, comps_si2_1193),
     spec("MgII", "2796.35", flux_mg2_2796, err_mg2_2796, fit_mg2_2796, ticks_mg2, comps_mg2_2796, hires=True)],
    [spec("HI", "1025.74", flux_h1_1025, err_h1_1025, fit_h1_1025, ticks_h1, comps_h1_1025),
     spec("NV", "1242.80", flux_n5_1242, err_n5_1242, fit_n5_1242, ticks_n5),
     spec("SiII", "1260.42", flux_si2_1260, err_si2_1260, fit_si2_1260, ticks_si2, comps_si2_1260, blue_si2_1260, gray_si2_1260),
     spec("MgII", "2803.53", flux_mg2_2803, err_mg2_2803, fit_mg2_2803, ticks_mg2, comps_mg2_2803, hires=True)],
    [spec("HI", "972.54", flux_h1_972, err_h1_972, fit_h1_972, ticks_h1, comps_h1_972),
     spec("OI", "1302.17", flux_o1_1302, err_o1_1302, fit_o1_1302, ticks_o1, comps_o1_1302),
     spec("SiII", "1304.37", flux_si2_1304, err_si2_1304, fit_si2_1304, ticks_si2, comps_si2_1304),
     spec("MnII", "2606.46", flux_mn2_2606, err_mn2_2606, fit_mn2_2606, hires=True, thin=True)],
    [spec("HI", "949.74", flux_h1_949, err_h1_949, fit_h1_949, ticks_h1, comps_h1_949),
     spec("OI", "1039.23", flux_o1_1039, err_o1_1039, fit_o1_1039, ticks_o1, None, blue_o1_1039, gray_o1_1039),
     spec("SiIII", "1206.50", flux_si3_1206, err_si3_1206, fit_si3_1206, ticks_si3, comps_si3_1206, blue_si3_1206),
     spec("MnII", "2594.5", flux_mn2_2594, err_mn2_2594, fit_mn2_2594, hires=True, thin=True)],
    [spec("CII", "1334.54", flux_c2_1334, err_c2_1334, fit_c2_1334, ticks_c2),
     spec("OI", "988.77", flux_o1_988, err_o1_988, fit_o1_988, ticks_o1_988, comps_o1_988),
     spec("SiIV", "1393.76", flux_si4_1393, err_si4_1393, fit_si4_1393, ticks_si4),
     spec("MnII", "2576.88", flux_mn2_2576, err_mn2_2576, fit_mn2_2576, hires=True, thin=True)],
    [spec("CII", "1036.34", flux_c2_1036, err_c2_1036, fit_c2_1036, ticks_c2),
     spec("OVI", "1031.93", flux_o6_1031, err_o6_1031, fit_o6_1031, ticks_o6),
     spec("SiIV", "1402.77", flux_si4_1402, err_si4_1402, fit_si4_1402, ticks_si4, None, blue_si4_1402, gray_si4_1402),
     spec("FeII", "2600.17", flux_fe2_2600, err_fe2_2600, fit_fe2_2600, ticks_fe2, hires=True)],
    [spec("CIII", "977.02", flux_c3_977, err_c3_977, fit_c3_977, ticks_c3),
     spec("OVI", "1037.62", flux_o6_1037, err_o6_1037, fit_o6_1037, ticks_o6),
     spec("CaII", "3934.78", flux_ca2_3934, err_ca2_3934, fit_ca2_3934, hires=True, thin=True),
     spec("FeII", "2586.65", flux_fe2_2586, err_fe2_2586, fit_fe2_2586, ticks_fe2, hires=True)],
    [spec("NII", "1083.99", flux_n2_1083, err_n2_1083, fit_n2_1083, ticks_n2, comps_n2_1083),
     spec("SiII", "989.87", flux_si2_989, err_si2_989, fit_si2_989, ticks_si2, comps_si2_989, blue_si2_989, gray_si2_989),
     spec("CaII", "3969.59", flux_ca2_3969, err_ca2_3969, fit_ca2_3969, hires=True, thin=True),
     None],
    [spec("NIII", "989.80", flux_n3_989, err_n3_989, fit_n3_989, ticks_n3, None, blue_n3_989, gray_n3_989),
     spec("SiII", "1190.42", flux_si2_1190, err_si2_1190, fit_si2_1190, ticks_si2, comps_si2_1190),
     spec("MgI", "2852.96", flux_mg1_2852, err_mg1_2852, fit_mg1_2852, ticks_mg1, None, blue_mg1_2852, hires=True),
     None],
]

# ---------------------------------------------------------------- drawing helpers
XS = alt.Scale(domain=[V_MIN, V_MAX], nice=False, zero=False)
YS = alt.Scale(domain=[F_MIN, F_MAX], nice=False, zero=False)

LABEL_STYLE = dict(grid=False, domain=False, ticks=False, title=None, labelFont=FONT,
                   labelFontSize=12, labelColor="black", labelFlush=False,
                   labelOverlap=False, labelBound=False)

X_LABELS = alt.Axis(orient="bottom", values=X_TICKS, labelPadding=11,
                    labelExpr="datum.value >= 300 ? '' : replace(format(datum.value, 'd'), '-', '\u2212')",
                    **LABEL_STYLE)
Y_LABELS = alt.Axis(orient="left", values=Y_TICKS, labelPadding=8, format=".1f", **LABEL_STYLE)


def spectrum_df(values):
    step = (V_MAX - V_MIN) / (len(values) - 1)
    return pd.DataFrame({"v": [V_MIN + step * i for i in range(len(values))],
                         "f": [x / 100.0 for x in values]})


def nodes_df(segments):
    rows = [{"id": k, "v": v, "f": f} for k, seg in enumerate(segments) for v, f in seg]
    return pd.DataFrame(rows)


def panel(p, show_x, show_y):
    xa = X_LABELS if show_x else None
    ya = Y_LABELS if show_y else None

    def X(field="v"):
        return alt.X(f"{field}:Q", scale=XS, axis=xa)

    def Y(field="f"):
        return alt.Y(f"{field}:Q", scale=YS, axis=ya)

    def curve(segments, color, width, interp="monotone"):
        return alt.Chart(nodes_df(segments)).mark_line(
            color=color, strokeWidth=width, interpolate=interp, clip=True
        ).encode(x=X(), y=Y(), detail="id:N")

    layers = []
    if p is None:
        title = "\u00a0"
    else:
        color = C_HIRES if p["hires"] else C_DATA
        layers.append(alt.Chart(spectrum_df(p["flux"])).mark_line(
            color=color, strokeWidth=0.7 if p["hires"] else 0.8,
            interpolate="linear" if p["hires"] else "step", clip=True
        ).encode(x=X(), y=Y()))
        layers.append(curve([p["err"]], C_ERR, 0.8, interp="linear"))
        if p["gray"]:
            layers.append(curve(p["gray"], C_GRAY, 0.9))
        if p["comps"]:
            layers.append(curve(p["comps"], C_COMP, 0.8))
        if p["blue"]:
            layers.append(curve(p["blue"], C_BLUE, 1.0))
        layers.append(curve([p["fit"]], C_FIT, 1.0 if p["thin"] else 2.3))
        if p["ticks"]:
            tdf = pd.DataFrame({"v": p["ticks"], "lo": 0.965, "hi": F_MAX})
            layers.append(alt.Chart(tdf).mark_rule(color=C_TICK, strokeWidth=2.2).encode(
                x=X(), y=Y("lo"), y2="hi:Q"))
        title = f"{p['ion']}\u2002\u03bb\u2092={p['wave']}"

    # inward ticks on all four sides of the frame
    tx = pd.DataFrame({"v": X_TICKS})
    ty = pd.DataFrame({"f": Y_TICKS})
    rule = dict(color="black", strokeWidth=TICK_W)
    layers += [
        alt.Chart(tx).mark_rule(**rule).encode(x=X(), y=alt.value(PANEL_H - TICK_LEN), y2=alt.value(PANEL_H)),
        alt.Chart(tx).mark_rule(**rule).encode(x=X(), y=alt.value(0), y2=alt.value(TICK_LEN)),
        alt.Chart(ty).mark_rule(**rule).encode(y=Y(), x=alt.value(0), x2=alt.value(TICK_LEN)),
        alt.Chart(ty).mark_rule(**rule).encode(y=Y(), x=alt.value(PANEL_W - TICK_LEN), x2=alt.value(PANEL_W)),
    ]
    return alt.layer(*layers).properties(
        width=PANEL_W, height=PANEL_H,
        title=alt.TitleParams(title, font=FONT, fontSize=12.5, fontWeight="normal",
                              color="black", offset=3, anchor="middle"))


rows = []
n_rows = len(GRID)
for r, row in enumerate(GRID):
    cells = [panel(p, show_x=(r == n_rows - 1), show_y=(c == 0)) for c, p in enumerate(row)]
    rows.append(alt.hconcat(*cells, spacing=0, bounds="flush"))

grid = alt.vconcat(*rows, spacing=4,
                   title=alt.TitleParams("Normalized Flux", orient="left", font=FONT, fontSize=17,
                                         fontWeight="normal", color="black", offset=18, anchor="middle"))

chart = alt.hconcat(grid, title=alt.TitleParams("Velocity (km/s)", orient="bottom", font=FONT,
                                                fontSize=17, fontWeight="normal", color="black",
                                                offset=29, anchor="middle"))
chart = chart.properties(padding={"left": 15, "top": 12, "right": 8, "bottom": 6},
                         background="white").configure_view(stroke="black", strokeWidth=1.8)

chart.save("out.html", embed_options={"renderer": "svg", "actions": False})
